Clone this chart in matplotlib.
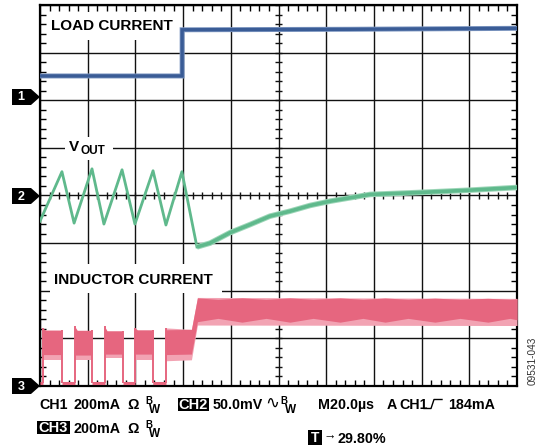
import matplotlib.pyplot as plt
import numpy as np
from matplotlib.patches import Rectangle, Polygon
from matplotlib.ticker import MultipleLocator

plt.rcParams['font.family'] = ['Liberation Sans', 'DejaVu Sans']
plt.rcParams['font.weight'] = 'bold'

# scope settings (time in us, screen in divisions from the bottom)
T_SPAN = 200.0
CH1_DIV, CH2_DIV, CH3_DIV = 200.0, 50.0, 200.0   # mA/div, mV/div, mA/div
CH1_REF, CH2_REF, CH3_REF = 6.07, 4.0, 0.0        # ground markers

# CH1: load current step (mA)
load_t = [0.0, 59.6, 59.6, 130.0, 200.0]
load_ma = [88, 88, 282, 284, 288]

# CH2: output voltage, burst ripple then load transient (mV)
ripple_t = [0.0, 9.2, 14.3, 21.8, 26.8, 34.4, 39.8, 47.4, 52.8, 59.5, 65.8]
ripple_mv = [-27, 25, -29, 28, -30, 27, -30, 26, -31, 25, -54]
recov_t = [65.8, 71.3, 79.7, 88.1, 96.4, 104.8, 113.2, 121.6, 130.0, 138.4,
           159.3, 180.3, 200.0]
recov_mv = [-54, -50, -39, -30.5, -21.7, -16.5, -10.5, -6.0, -2.4, 1.1,
            3.2, 5.6, 8.4]

# CH3: inductor current packets before the step (mA)
burst_on = [1.3, 14.6, 27.1, 39.8]
burst_off = [9.2, 21.8, 34.6, 47.4]
burst_peak = [242, 250, 250, 244]
burst_top = [235, 234, 232, 236]
burst_core_lo = [132, 130, 134, 134]
burst_bot = [110, 110, 116, 110]
idle_t = [(0.0, 1.3), (9.2, 14.6), (21.8, 27.1), (34.6, 39.8), (47.4, 52.8)]
idle_ma = 13

# CH3: last packet running into continuous conduction
ccm_top_t = [52.8, 54.0, 64.0, 65.5, 200.0]
ccm_top_ma = [244, 236, 238, 372, 368]
ccm_bot_t = [52.8, 63.5, 66.0, 200.0]
ccm_bot_ma = [106, 110, 256, 254]
core_t = [52.8, 63.5, 66.0, 74.6, 84.7, 94.8, 104.8, 114.5, 125.8, 135.4,
          144.7, 154.3, 165.6, 176.1, 187.8, 197.0, 200.0]
core_hi = [236, 238, 370, 364, 370, 364, 370, 364, 370, 364,
           370, 364, 370, 364, 370, 364, 366]
core_lo = [132, 134, 270, 284, 268, 284, 268, 284, 268, 284,
           268, 284, 268, 284, 268, 284, 278]

BLUE = '#3a5c96'
BLUE_LT = '#7f98c2'
GREEN = '#5fb98c'
GREEN_LT = '#9dd6b8'
PINK = '#e6667f'
PINK_LT = '#f2a3b3'


def ch(vals, scale, ref):
    return ref + np.asarray(vals, dtype=float) / scale


fig = plt.figure(figsize=(5.42, 4.48), dpi=100)
W, H = 542.0, 448.0
ax = fig.add_axes([40 / W, (H - 386) / H, 477 / W, 381 / H])
ax.set_xlim(0, T_SPAN)
ax.set_ylim(0, 8)

# graticule
ax.set_xticks(np.arange(0, 201, 20))
ax.set_yticks(np.arange(0, 9, 1))
ax.xaxis.set_minor_locator(MultipleLocator(4))
ax.yaxis.set_minor_locator(MultipleLocator(0.2))
ax.tick_params(which='both', direction='in', top=True, right=True,
               labelbottom=False, labelleft=False, color='black')
ax.tick_params(which='major', length=0)
ax.tick_params(which='minor', length=4, width=1.0)
ax.grid(True, color='#111111', lw=1.0)
for s in ax.spines.values():
    s.set_linewidth(1.6)

# ticks on the centre cross
ax.vlines(np.arange(0, 200.1, 4), 4 - 0.065, 4 + 0.065, color='#111111', lw=1.0, zorder=1.6)
ax.hlines(np.arange(0, 8.01, 0.2), 100 - 1.3, 100 + 1.3, color='#111111', lw=1.0, zorder=1.6)


def px(x, y):
    # screen pixel -> data coords
    return (x - 40) * T_SPAN / 477.0, (386 - y) / 47.6


def white_box(x0, y0, x1, y1):
    a = px(x0, y1)
    b = px(x1, y0)
    ax.add_patch(Rectangle(a, b[0] - a[0], b[1] - a[1], facecolor='white',
                           edgecolor='none', zorder=2))


white_box(48, 12, 180, 40)
white_box(50, 264, 222, 293)
white_box(65, 137, 113, 160)
ax.text(*px(51, 26), 'LOAD CURRENT', fontsize=11, va='center', ha='left', zorder=2.1)
ax.text(*px(54, 280), 'INDUCTOR CURRENT', fontsize=11, va='center', ha='left', zorder=2.1)
ax.text(*px(69, 147), 'V', fontsize=11, va='center', ha='left', zorder=2.1)
ax.text(*px(80.5, 151), 'OUT', fontsize=8.5, va='center', ha='left', zorder=2.1)

# CH1
ax.plot(load_t, ch(load_ma, CH1_DIV, CH1_REF), color=BLUE_LT, lw=3.6, zorder=3,
        solid_joinstyle='miter')
ax.plot(load_t, ch(load_ma, CH1_DIV, CH1_REF), color=BLUE, lw=2.4, zorder=3.1,
        solid_joinstyle='miter')

# CH2
ax.plot(ripple_t, ch(ripple_mv, CH2_DIV, CH2_REF), color=GREEN, lw=2.0, zorder=3)
ax.plot(recov_t, ch(recov_mv, CH2_DIV, CH2_REF), color=GREEN_LT, lw=4.0, zorder=3,
        solid_capstyle='butt')
ax.plot(recov_t, ch(recov_mv, CH2_DIV, CH2_REF), color=GREEN, lw=2.6, zorder=3.1,
        solid_capstyle='butt')

# CH3
for t0, t1 in idle_t:
    ax.plot([t0, t1], ch([idle_ma, idle_ma], CH3_DIV, CH3_REF), color=PINK, lw=2.2,
            zorder=3, solid_capstyle='butt')
for i in range(len(burst_on)):
    t0, t1 = burst_on[i], burst_off[i]
    tt = [t0, t0 + 1.0, t1]
    top = ch([burst_peak[i], burst_top[i], burst_top[i]], CH3_DIV, CH3_REF)
    ax.fill_between([t0, t1], ch([burst_bot[i]] * 2, CH3_DIV, CH3_REF),
                    ch([burst_core_lo[i]] * 2, CH3_DIV, CH3_REF), color=PINK_LT, lw=0, zorder=3)
    ax.fill_between(tt, ch([burst_core_lo[i]] * 3, CH3_DIV, CH3_REF), top,
                    color=PINK, lw=0, zorder=3.1)
    ax.vlines([t0, t1], ch(idle_ma, CH3_DIV, CH3_REF),
              ch([burst_peak[i], burst_top[i]], CH3_DIV, CH3_REF),
              color=PINK, lw=1.4, zorder=3.1)

ct = np.array(core_t)
top_env = np.interp(ct, ccm_top_t, ch(ccm_top_ma, CH3_DIV, CH3_REF))
bot_env = np.interp(ct, ccm_bot_t, ch(ccm_bot_ma, CH3_DIV, CH3_REF))
ax.fill_between(ct, bot_env, top_env, color=PINK_LT, lw=0, zorder=3)
ax.fill_between(ct, ch(core_lo, CH3_DIV, CH3_REF), np.minimum(ch(core_hi, CH3_DIV, CH3_REF), top_env),
                color=PINK, lw=0, zorder=3.1)
ax.vlines([52.8], ch(idle_ma, CH3_DIV, CH3_REF), ch(244, CH3_DIV, CH3_REF),
          color=PINK, lw=1.4, zorder=3.1)

# overlay in screen pixels for markers and readout text
ov = fig.add_axes([0, 0, 1, 1], zorder=5)
ov.set_xlim(0, W)
ov.set_ylim(H, 0)
ov.axis('off')
ov.patch.set_alpha(0)

for label, yc in (('1', 97), ('2', 196), ('3', 386)):
    ov.add_patch(Polygon([(12, yc - 8), (31, yc - 8), (40, yc), (31, yc + 8), (12, yc + 8)],
                         closed=True, facecolor='black', edgecolor='none'))
    ov.text(21, yc + 0.5, label, color='white', fontsize=9, ha='center', va='center')


def black_tag(x0, x1, y0, y1, label, size=10.5):
    ov.add_patch(Rectangle((x0, y0), x1 - x0, y1 - y0, facecolor='black', edgecolor='none'))
    ov.text((x0 + x1) / 2, (y0 + y1) / 2 + 0.5, label, color='white', fontsize=size,
            ha='center', va='center')


fs = 10.3
# row 1
ov.text(39, 409, 'CH1', fontsize=fs, va='baseline')
ov.text(73, 409, '200mA', fontsize=fs, va='baseline')
ov.text(127, 409, 'Ω', fontsize=fs, va='baseline')
ov.text(145, 404, 'B', fontsize=7, va='baseline')
ov.text(149, 413, 'W', fontsize=8.5, va='baseline')
black_tag(178, 209, 398, 411, 'CH2')
ov.text(272, 403, '∿', fontsize=12, va='center', ha='center', fontweight='normal')
ov.text(213, 409, '50.0mV', fontsize=fs, va='baseline')
ov.text(280, 404, 'B', fontsize=7, va='baseline')
ov.text(285, 413, 'W', fontsize=8.5, va='baseline')
ov.text(318, 409, 'M20.0µs', fontsize=fs, va='baseline')
ov.text(387, 409, 'A', fontsize=fs, va='baseline')
ov.text(399, 409, 'CH1', fontsize=fs, va='baseline')
ov.plot([424, 431, 434, 442], [408.5, 408.5, 399.5, 399.5], color='black', lw=1.0)
ov.text(448, 409, '184mA', fontsize=fs, va='baseline')
# row 2
black_tag(37, 70, 421, 434, 'CH3')
ov.text(74, 433, '200mA', fontsize=fs, va='baseline')
ov.text(127, 433, 'Ω', fontsize=fs, va='baseline')
ov.text(145, 428, 'B', fontsize=7, va='baseline')
ov.text(149, 437, 'W', fontsize=8.5, va='baseline')
# row 3
black_tag(308, 322, 430, 445, 'T', size=10)
ov.text(323.5, 437, '→', fontsize=9, va='center')
ov.text(337, 443, '29.80%', fontsize=fs, va='baseline')

ov.text(533, 361, '09531-043', fontsize=7.2, rotation=90, ha='center', va='center',
        fontweight='normal', color='#333333')

fig.savefig('out.png', dpi=100)
